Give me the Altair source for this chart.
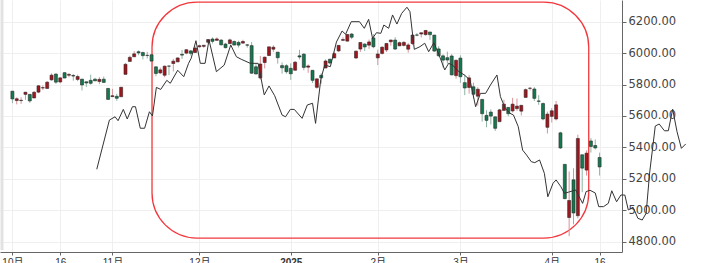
import altair as alt
import pandas as pd

# ---- candlestick data (daily, Oct 1 .. Apr 16) ----
opens = [
    5757.7, 5698.2, 5698.0, 5737.8, 5737.4, 5714.6, 5751.8, 5778.4, 5775.1, 5829.8,
    5866.7, 5816.6, 5875.6, 5859.4, 5857.8, 5832.7, 5834.5, 5817.8, 5826.8, 5833.9,
    5819.7, 5833.9, 5775.3,
    5723.2, 5725.2, 5722.4, 5864.9, 5947.2, 5976.8, 6008.9, 6003.6, 5985.8, 5989.7,
    5912.8, 5874.2, 5859.3, 5917.7, 5933.9, 5944.4, 5992.3, 6000.0, 6014.1, 6004.0,
    6040.1, 6043.0, 6069.4, 6089.8, 6081.4, 6083.0, 6057.6, 6060.2, 6074.3, 6068.2,
    6063.8, 6052.6, 6047.7, 5912.7, 5842.0, 5940.3, 5984.7, 6025.0, 6006.2, 5920.7,
    5919.7,
    5903.3, 5891.1, 5982.8, 5993.3, 5910.7, 5890.7, 5782.3, 5859.0, 5905.2, 5961.0,
    5969.2, 6014.1, 6081.4, 6076.3, 6121.4, 5969.0, 6026.0, 6057.7, 6050.8, 6096.8,
    5969.7, 5998.1, 6020.5, 6072.2, 6083.1, 6046.4, 6049.3, 6025.1, 6060.6, 6115.5,
    6121.6, 6117.8, 6134.5, 6114.8, 6026.7, 5982.7, 5970.9, 5981.9, 5856.7,
    5968.3, 5812.0, 5781.4, 5785.9, 5726.0, 5705.4, 5603.7, 5624.8, 5594.5, 5563.8,
    5635.6, 5654.5, 5632.4, 5646.9, 5630.7, 5718.1, 5775.9, 5771.7, 5695.6, 5679.1,
    5527.9,
    5597.5, 5580.8, 5492.7, 5292.1, 4953.8, 5193.6, 4965.3, 5353.2, 5255.6, 5441.0,
    5412.0, 5335.8,
]
highs = [
    5757.7, 5719.1, 5718.8, 5753.2, 5739.3, 5757.6, 5796.8, 5795.0, 5822.1, 5871.4,
    5870.4, 5846.4, 5878.5, 5872.2, 5866.9, 5863.0, 5834.9, 5817.8, 5862.8, 5842.9,
    5847.2, 5850.9, 5775.3,
    5772.6, 5741.4, 5783.4, 5936.1, 5983.8, 6012.5, 6017.3, 6009.9, 6008.2, 5993.9,
    5915.3, 5908.1, 5920.7, 5920.7, 5963.5, 5972.9, 6020.8, 6025.4, 6020.2, 6044.2,
    6053.6, 6052.1, 6089.8, 6100.0, 6100.0, 6088.5, 6065.4, 6092.6, 6079.7, 6078.6,
    6085.2, 6057.7, 6070.7, 5935.5, 5982.1, 5978.3, 6040.1, 6049.8, 6006.2, 5940.8,
    5929.7,
    5935.1, 5949.3, 6021.0, 6000.7, 5927.9, 5890.7, 5839.1, 5871.9, 5960.6, 5964.7,
    6006.9, 6051.5, 6100.8, 6118.7, 6128.2, 6017.2, 6069.1, 6062.8, 6086.6, 6120.9,
    6022.1, 6042.5, 6062.0, 6084.0, 6101.3, 6073.4, 6076.3, 6063.6, 6116.9, 6127.5,
    6129.6, 6147.4, 6134.5, 6114.8, 6043.7, 5992.7, 6009.8, 5993.7, 5959.4,
    5986.1, 5865.1, 5860.6, 5812.1, 5783.0, 5705.4, 5636.3, 5642.2, 5597.8, 5645.3,
    5703.5, 5654.5, 5715.3, 5711.2, 5670.8, 5775.1, 5783.4, 5783.6, 5732.3, 5685.9,
    5627.6,
    5650.6, 5695.3, 5499.5, 5292.1, 5246.6, 5267.5, 5481.3, 5353.2, 5381.5, 5459.5,
    5450.4, 5367.2,
]
lows = [
    5681.3, 5674.0, 5677.2, 5702.8, 5683.8, 5714.6, 5745.0, 5764.8, 5775.1, 5824.8,
    5804.5, 5808.3, 5840.3, 5846.1, 5824.6, 5821.2, 5762.4, 5784.9, 5799.0, 5823.1,
    5802.2, 5811.3, 5702.9,
    5723.2, 5696.5, 5722.1, 5864.9, 5947.2, 5976.8, 5986.7, 5960.1, 5965.9, 5942.3,
    5853.0, 5866.0, 5846.4, 5860.2, 5883.5, 5944.4, 5963.9, 5992.3, 5984.9, 6004.0,
    6035.3, 6033.4, 6061.1, 6061.6, 6080.0, 6048.6, 6029.9, 6060.2, 6051.3, 6035.8,
    6059.1, 6035.2, 5867.8, 5866.1, 5832.3, 5902.6, 5981.4, 6007.4, 5933.0, 5869.2,
    5868.9,
    5829.5, 5888.7, 5960.0, 5890.7, 5874.8, 5809.5, 5773.4, 5805.5, 5905.2, 5930.1,
    5969.2, 6006.9, 6076.3, 6074.7, 6088.7, 5962.9, 6007.8, 6013.0, 6027.4, 6030.9,
    5923.9, 5990.9, 6007.1, 6046.8, 6020.0, 6044.8, 6042.3, 6003.0, 6051.0, 6107.6,
    6099.5, 6111.2, 6084.6, 6008.6, 5977.8, 5908.5, 5932.7, 5858.8, 5837.7,
    5810.9, 5732.6, 5742.4, 5711.6, 5666.3, 5564.0, 5528.4, 5546.1, 5504.7, 5563.8,
    5631.1, 5597.8, 5622.2, 5632.0, 5603.1, 5718.1, 5763.0, 5695.0, 5670.9, 5572.4,
    5488.7,
    5558.5, 5571.5, 5390.8, 5069.9, 4835.0, 4910.4, 4948.4, 5115.3, 5220.8, 5367.2,
    5386.4, 5220.8,
]
closes = [
    5708.8, 5709.5, 5699.9, 5751.1, 5695.9, 5751.1, 5792.0, 5780.1, 5815.0, 5859.9,
    5815.3, 5842.5, 5841.5, 5864.7, 5854.0, 5851.2, 5797.4, 5809.9, 5808.1, 5823.5,
    5832.9, 5813.7, 5705.5,
    5728.8, 5712.7, 5782.8, 5929.0, 5973.1, 5995.5, 6001.4, 5984.0, 5985.4, 5949.2,
    5870.6, 5893.6, 5917.0, 5917.1, 5948.7, 5969.3, 5987.4, 6021.6, 5998.7, 6032.4,
    6047.2, 6049.9, 6086.5, 6075.1, 6090.3, 6052.9, 6034.9, 6084.2, 6051.3, 6051.1,
    6074.1, 6050.6, 5872.2, 5867.1, 5930.9, 5974.1, 6040.0, 6037.6, 5970.8, 5906.9,
    5881.6,
    5868.6, 5942.5, 5975.4, 5909.0, 5918.3, 5827.0, 5836.2, 5842.9, 5949.9, 5937.3,
    5996.7, 6049.2, 6086.4, 6118.7, 6101.2, 6012.3, 6067.7, 6039.3, 6071.2, 6040.5,
    5994.6, 6037.9, 6061.5, 6083.6, 6026.0, 6066.4, 6068.5, 6052.0, 6115.1, 6114.6,
    6129.6, 6144.2, 6117.5, 6013.1, 5983.3, 5955.3, 5956.1, 5861.6, 5954.5,
    5849.7, 5778.2, 5842.6, 5738.5, 5770.2, 5614.6, 5572.1, 5599.3, 5521.5, 5638.9,
    5675.1, 5614.7, 5675.3, 5662.9, 5667.6, 5767.6, 5776.7, 5712.2, 5693.3, 5580.9,
    5611.9,
    5633.1, 5671.0, 5396.5, 5074.1, 5062.3, 4982.8, 5456.9, 5268.1, 5363.4, 5406.0,
    5396.6, 5275.7,
]

# ---- overlay line (position in bar units, value) ----
line_idx = [
    19.4, 22.3, 23.6, 24.3, 25.5, 26.4, 27.6, 28.3, 29.4, 30.4,
    31.5, 32.2, 33.1, 34.1, 35.5, 36.3, 38.0, 39.4, 40.5, 41.1,
    42.2, 43.2, 44.3, 45.2, 46.9, 48.7, 50.2, 51.5, 52.6, 54.7,
    56.5, 57.9, 59.0, 60.3, 62.0, 62.8, 63.9, 64.8, 66.6, 67.8,
    69.0, 69.7, 70.9, 71.8, 73.1, 74.5, 75.8, 76.6, 77.9, 79.8,
    80.9, 81.9, 82.8, 83.7, 84.7, 85.4, 86.5, 87.4, 88.4, 89.5,
    90.7, 91.4, 92.4, 93.7, 94.8, 95.7, 96.9, 98.0, 99.4, 100.3,
    101.2, 102.4, 103.9, 105.2, 106.5, 107.6, 108.8, 109.9, 111.4, 112.2,
    113.3, 114.4, 115.2, 116.3, 117.3, 118.2, 119.3, 120.1, 121.2, 122.3,
    123.1, 124.3, 125.0, 126.1, 126.9, 127.8, 129.5, 131.1, 131.9, 132.8,
    134.0, 134.8, 135.9, 137.0, 137.8, 138.9, 139.9, 140.8, 141.6, 142.7,
    143.8, 144.8, 145.7, 146.5, 147.8, 148.7, 149.9, 150.8, 151.8, 152.8,
    153.8, 154.8,
]
line_val = [
    5261, 5574, 5595, 5570, 5642, 5581, 5659, 5659, 5522, 5522,
    5627, 5600, 5782, 5769, 5827, 5808, 5891, 5850, 5935, 5967,
    6079, 5935, 5935, 6084, 5882, 5924, 6052, 5977, 5961, 5935,
    5935, 5734, 5791, 5729, 5606, 5595, 5642, 5642, 5585, 5670,
    5681, 5553, 5833, 5924, 5914, 6071, 6141, 6120, 6200, 6200,
    6158, 6215, 6094, 6130, 6126, 6179, 6158, 6243, 6185, 6253,
    6292, 6264, 6024, 6041, 6063, 6009, 6066, 5994, 5893, 5935,
    5924, 5888, 5861, 5829, 5659, 5744, 5744, 5797, 5861, 5723,
    5649, 5617, 5606, 5532, 5383, 5352, 5309, 5303, 5320, 5235,
    5086, 5172, 5193, 5150, 5108, 5115, 5129, 5044, 5119, 5127,
    5110, 5023, 5023, 5044, 5124, 5054, 5097, 5097, 5002, 5019,
    4949, 4938, 4981, 5237, 5536, 5549, 5506, 5506, 5643, 5500,
    5394, 5422,
]

# ---- axis ticks ----
x_tick_idx = [0, 11, 23, 43, 64, 84, 103, 124, 135]
x_tick_txt = ["10月", "16", "11月", "12月", "2025", "2月", "3月", "4月", "16"]
y_ticks = [4800, 5000, 5200, 5400, 5600, 5800, 6000, 6200]

# ---- annotation box (data units) ----
box = pd.DataFrame({"x": [32.1], "x2": [132.5], "y": [4823], "y2": [6325]})

candles = pd.DataFrame({"i": list(range(len(closes))), "open": opens,
                        "high": highs, "low": lows, "close": closes})
line_df = pd.DataFrame({"i": line_idx, "v": line_val})

label_expr = ""
for k, t in zip(x_tick_idx, x_tick_txt):
    label_expr += f"datum.value == {k} ? '{t}' : "
label_expr += "''"

FONT = "Liberation Sans, 'Noto Sans CJK SC', sans-serif"
YFONT = "DejaVu Sans, sans-serif"

x_scale = alt.Scale(domain=[-1.7, 139.0], nice=False, zero=False)
y_scale = alt.Scale(domain=[4734.4, 6338.1], nice=False, zero=False)

x_axis = alt.Axis(values=x_tick_idx, labelExpr=label_expr, title=None, grid=True,
                  gridColor="#efefef", domainColor="#666666", tickColor="#666666",
                  tickSize=3, labelPadding=2, labelFontSize=10, labelColor="#333333",
                  labelFont=FONT, labelFlush=False,
                  labelFontWeight={"condition": {"test": "datum.value == 64", "value": "bold"},
                                   "value": "normal"})
y_axis = alt.Axis(orient="right", values=y_ticks, format=".2f", title=None, grid=True,
                  gridColor="#efefef", domainColor="#666666", tickColor="#666666",
                  tickSize=4, labelPadding=2, labelFontSize=11.5, labelColor="#444444",
                  labelFont=YFONT)

up_cond = "datum.close >= datum.open"

wicks = alt.Chart(candles).mark_rule(strokeWidth=1).encode(
    x=alt.X("i:Q", scale=x_scale, axis=x_axis),
    y=alt.Y("low:Q", scale=y_scale, axis=y_axis),
    y2="high:Q",
    color=alt.condition(up_cond, alt.value("#d9939a"), alt.value("#8fb3a4")),
)
bodies = alt.Chart(candles).mark_bar(size=3, stroke="#2a2a2a", strokeWidth=0.6).encode(
    x=alt.X("i:Q", scale=x_scale, axis=x_axis),
    y=alt.Y("open:Q", scale=y_scale, axis=y_axis),
    y2="close:Q",
    color=alt.condition(up_cond, alt.value("#a3141c"), alt.value("#137a4f")),
)
line = alt.Chart(line_df).mark_line(color="#333333", strokeWidth=1).encode(
    x=alt.X("i:Q", scale=x_scale, axis=x_axis),
    y=alt.Y("v:Q", scale=y_scale, axis=y_axis),
)
frame = alt.Chart(box).mark_rect(fillOpacity=0, stroke="#f2383d", strokeWidth=1.3,
                                 cornerRadius=45).encode(
    x=alt.X("x:Q", scale=x_scale, axis=x_axis),
    x2="x2:Q",
    y=alt.Y("y:Q", scale=y_scale, axis=y_axis),
    y2="y2:Q",
)
left_edge = alt.Chart(box).mark_rule(color="#e2e2e2", strokeWidth=3).encode(
    x=alt.value(2), y=alt.value(0), y2=alt.value(250)
)

chart = alt.layer(left_edge, frame, wicks, bodies, line).properties(
    width=622, height=252,
    padding={"left": 0, "top": 0, "right": 84, "bottom": 11},
    autosize="none", background="white"
).configure_view(stroke=None)

chart.save("out.html", embed_options={"renderer": "svg", "actions": False})
